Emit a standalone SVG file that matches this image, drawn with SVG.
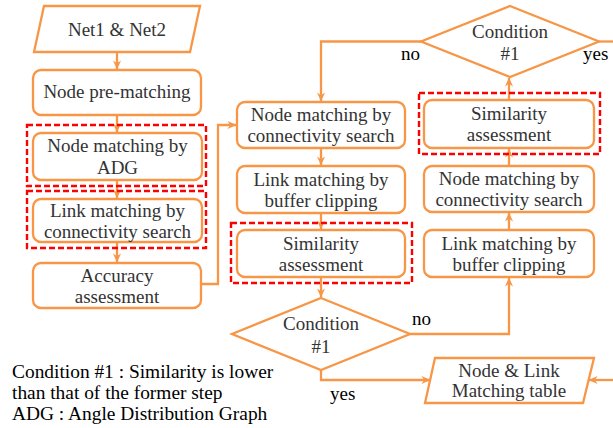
<svg xmlns="http://www.w3.org/2000/svg" width="613" height="428" viewBox="0 0 613 428">
<style>
.box{fill:#fff;stroke:#F79646;stroke-width:2.3}
.hl{fill:none;stroke:#FF0000;stroke-width:2.4;stroke-dasharray:6 3}
.con{fill:none;stroke:#F79646;stroke-width:2.3}
text{font-family:'Liberation Serif','DejaVu Serif',serif}
.t{font-size:19px;fill:#333;text-anchor:middle}
.lbl{font-size:19px;fill:#000}
.leg{font-size:19.4px;fill:#000}
</style>
<defs>
<marker id="ah" viewBox="0 0 10 10" refX="9.5" refY="5" markerWidth="9" markerHeight="9" markerUnits="userSpaceOnUse" orient="auto">
<path d="M0,0.5 L10,5 L0,9.5 L3,5 z" fill="#F79646"/>
</marker>
</defs>

<g id="connectors">
<path class="con" d="M117,52 V69" marker-end="url(#ah)"/>
<path class="con" d="M117,115 V132" marker-end="url(#ah)"/>
<path class="con" d="M117,180 V198" marker-end="url(#ah)"/>
<path class="con" d="M117,242 V262" marker-end="url(#ah)"/>
<path class="con" d="M201,284 H218 V125 H236" marker-end="url(#ah)"/>
<path class="con" d="M321,148 V165" marker-end="url(#ah)"/>
<path class="con" d="M321,213 V229" marker-end="url(#ah)"/>
<path class="con" d="M321,277 V297" marker-end="url(#ah)"/>
<path class="con" d="M410,334 H509 V278" marker-end="url(#ah)"/>
<path class="con" d="M321,370 V380 H430" marker-end="url(#ah)"/>
<path class="con" d="M613,380 H589" marker-end="url(#ah)"/>
<path class="con" d="M509,230 V213" marker-end="url(#ah)"/>
<path class="con" d="M509,166 V149" marker-end="url(#ah)"/>
<path class="con" d="M509,100 V78" marker-end="url(#ah)"/>
<path class="con" d="M421,41.5 H321 V101" marker-end="url(#ah)"/>
<path class="con" d="M599,41.5 H613"/>
</g>

<g id="net-input">
<polygon class="box" points="44,6 200,6 190,52 34,52"/>
<text class="t" x="117" y="36">Net1 &amp; Net2</text>
</g>
<g id="node-prematching">
<rect class="box" x="33" y="70" width="168" height="45" rx="8"/>
<text class="t" x="117" y="97.5">Node pre-matching</text>
</g>
<g id="node-adg">
<rect class="box" x="33" y="133" width="169" height="47" rx="8"/>
<text class="t" x="117.5" y="152">Node matching by</text>
<text class="t" x="117.5" y="174">ADG</text>
</g>
<g id="link-connectivity">
<rect class="box" x="33" y="199" width="169" height="43" rx="8"/>
<text class="t" x="117.5" y="216.5">Link matching by</text>
<text class="t" x="117.5" y="237.5">connectivity search</text>
</g>
<g id="accuracy">
<rect class="box" x="33" y="263" width="168" height="45" rx="8"/>
<text class="t" x="117" y="281.5">Accuracy</text>
<text class="t" x="117" y="302.5">assessment</text>
</g>

<g id="mid-node-connectivity">
<rect class="box" x="237" y="102" width="168" height="46" rx="8"/>
<text class="t" x="321" y="121">Node matching by</text>
<text class="t" x="321" y="142">connectivity search</text>
</g>
<g id="mid-link-buffer">
<rect class="box" x="237" y="166" width="168" height="47" rx="8"/>
<text class="t" x="321" y="185.5">Link matching by</text>
<text class="t" x="321" y="206.5">buffer clipping</text>
</g>
<g id="mid-similarity">
<rect class="box" x="237" y="230" width="168" height="47" rx="8"/>
<text class="t" x="321" y="249.5">Similarity</text>
<text class="t" x="321" y="270.5">assessment</text>
</g>
<g id="condition-bottom">
<polygon class="box" points="321,298 410,334 321,370 232,334"/>
<text class="t" x="321" y="329.5">Condition</text>
<text class="t" x="321" y="352.5">#1</text>
</g>

<g id="right-similarity">
<rect class="box" x="424" y="100" width="170" height="48" rx="8"/>
<text class="t" x="509" y="120">Similarity</text>
<text class="t" x="509" y="141">assessment</text>
</g>
<g id="right-node-connectivity">
<rect class="box" x="424" y="166" width="170" height="46" rx="8"/>
<text class="t" x="509" y="185">Node matching by</text>
<text class="t" x="509" y="206">connectivity search</text>
</g>
<g id="right-link-buffer">
<rect class="box" x="424" y="230" width="170" height="47" rx="8"/>
<text class="t" x="509" y="249.5">Link matching by</text>
<text class="t" x="509" y="270.5">buffer clipping</text>
</g>
<g id="condition-top">
<polygon class="box" points="510,6 599,41.5 510,77 421,41.5"/>
<text class="t" x="510" y="38">Condition</text>
<text class="t" x="510" y="60">#1</text>
</g>
<g id="matching-table">
<polygon class="box" points="435,358 594,358 583,403 425,403"/>
<text class="t" x="509" y="377">Node &amp; Link</text>
<text class="t" x="509" y="397">Matching table</text>
</g>

<g id="highlights">
<rect class="hl" x="27" y="125" width="179" height="61"/>
<rect class="hl" x="27" y="191" width="179" height="57"/>
<rect class="hl" x="231" y="223" width="181" height="60"/>
<rect class="hl" x="419" y="93" width="181" height="61"/>
</g>

<g id="labels">
<text class="lbl" x="401" y="60">no</text>
<text class="lbl" x="583" y="60">yes</text>
<text class="lbl" x="412" y="325">no</text>
<text class="lbl" x="330" y="400">yes</text>
</g>

<g id="legend">
<text class="leg" x="12" y="378">Condition #1 : Similarity is lower</text>
<text class="leg" x="12" y="399">than that of the former step</text>
<text class="leg" x="12" y="420">ADG : Angle Distribution Graph</text>
</g>
</svg>
